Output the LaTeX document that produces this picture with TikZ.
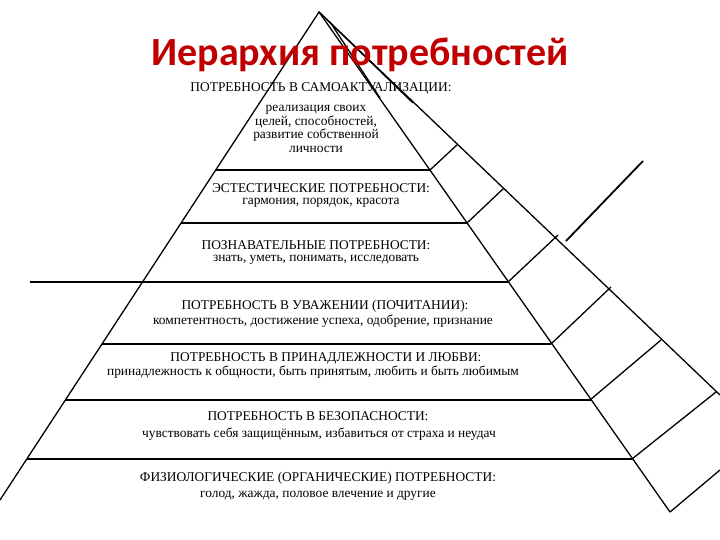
\documentclass[tikz,border=0pt]{standalone}
\usepackage{fontspec}
\setmainfont{Liberation Serif}
\newfontfamily\titlefont{Carlito}
\definecolor{titlered}{RGB}{192,0,0}
\begin{document}
\begin{tikzpicture}[x=1pt,y=-1pt,
  edge/.style={line width=1.3pt},
  head/.style={font=\fontsize{13.4}{14}\selectfont,inner sep=0pt},
  body/.style={font=\fontsize{13.4}{13.5}\selectfont,inner sep=0pt,align=center}]
\useasboundingbox (0,0) rectangle (720,540);
\fill[white] (0,0) rectangle (720,540);
% pyramid geometry
\coordinate (A) at (319,12);
\coordinate (L) at (0,500);
\coordinate (R) at (670,512);
\coordinate (O) at (720,395);
\draw[edge] (L) -- (A) -- (R);
\draw[edge] (A) -- (O);
\draw[edge] (A) -- (413,103);
\draw[edge] (330,22) -- (380,98);
% dividers (left edge x = 319-0.654(y-12), front x = 319+0.70(y-12))
\foreach \y/\w in {170/1.4,223/2.0,282/2.0,344/1.6,400/1.6,459/1.6}{
  \draw[line width=\w pt] ({319-0.654*(\y-12)},\y) -- ({319+0.70*(\y-12)},\y);
}
% side steps
\coordinate (s1a) at (430,170); \coordinate (s1b) at (458,144);
\coordinate (s2a) at (467,223); \coordinate (s2b) at (504,188);
\coordinate (s3a) at (508,282); \coordinate (s3b) at (558,235);
\coordinate (s4a) at (551,344); \coordinate (s4b) at (611,287);
\coordinate (s5a) at (590,400); \coordinate (s5b) at (661,340);
\coordinate (s6a) at (632,459); \coordinate (s6b) at (716,392);
\coordinate (s7a) at (670,512); \coordinate (s7b) at (720,470);
\foreach \i in {1,...,7}{\draw[edge] (s\i a) -- (s\i b);}
% extra strokes
\coordinate (d1) at (566,241); \coordinate (d2) at (643,161);
\draw[line width=1.8pt] (d1) -- (d2);
\coordinate (h1) at (30,282); \coordinate (h2) at (162,282);
\draw[line width=1.8pt] (h1) -- (h2);
% title
\node[font=\titlefont\bfseries\fontsize{40}{46}\selectfont,text=titlered] (title) at (360,55) {Иерархия потребностей};
% texts
\node[head] (t1) at (321,88) {ПОТРЕБНОСТЬ В САМОАКТУАЛИЗАЦИИ:};
\node[body] (b1) at (316,129) {реализация своих\\целей, способностей,\\развитие собственной\\личности};
\node[head] (t2) at (321,188) {ЭСТЕСТИЧЕСКИЕ ПОТРЕБНОСТИ:};
\node[body] (b2) at (321,203) {гармония, порядок, красота};
\node[head] (t3) at (316,245) {ПОЗНАВАТЕЛЬНЫЕ ПОТРЕБНОСТИ:};
\node[body] (b3) at (316,260) {знать, уметь, понимать, исследовать};
\node[head] (t4) at (325,306) {ПОТРЕБНОСТЬ В УВАЖЕНИИ (ПОЧИТАНИИ):};
\node[body] (b4) at (323,321) {компетентность, достижение успеха, одобрение, признание};
\node[head] (t5) at (326,358) {ПОТРЕБНОСТЬ В ПРИНАДЛЕЖНОСТИ И ЛЮБВИ:};
\node[body] (b5) at (313,372) {принадлежность к общности, быть принятым, любить и быть любимым};
\node[head] (t6) at (318,416) {ПОТРЕБНОСТЬ В БЕЗОПАСНОСТИ:};
\node[body] (b6) at (319,434) {чувствовать себя защищённым, избавиться от страха и неудач};
\node[head] (t7) at (318,478) {ФИЗИОЛОГИЧЕСКИЕ (ОРГАНИЧЕСКИЕ) ПОТРЕБНОСТИ:};
\node[body] (b7) at (318,496) {голод, жажда, половое влечение и другие};
\end{tikzpicture}
\end{document}
